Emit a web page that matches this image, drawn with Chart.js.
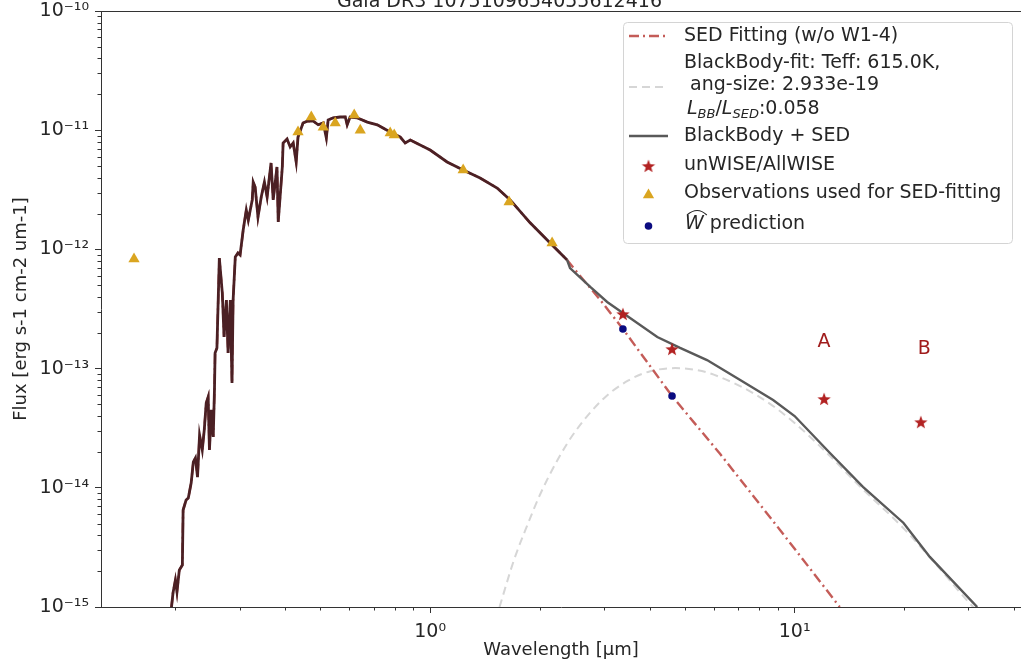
<!DOCTYPE html>
<html>
<head>
<meta charset="utf-8">
<script src="https://cdn.jsdelivr.net/npm/chart.js@4.4.0/dist/chart.umd.min.js"></script>
<style>
  html, body { margin: 0; padding: 0; background: #fff; overflow: hidden; }
  canvas { display: block; }
</style>
</head>
<body>
<canvas id="sedchart" width="1021" height="662"></canvas>
<script>
// model spectrum (micron, erg s-1 cm-2 um-1)
const sedWave = [0.195, 0.197, 0.200, 0.202, 0.205, 0.209, 0.210, 0.214, 0.217, 0.221, 0.224, 0.227,
    0.230, 0.233, 0.237, 0.240, 0.243, 0.246, 0.248, 0.251, 0.254, 0.256, 0.257, 0.260, 0.264, 0.269,
    0.272, 0.276, 0.279, 0.283, 0.286, 0.288, 0.292, 0.297, 0.301, 0.307, 0.313, 0.317, 0.325, 0.327,
    0.331, 0.337, 0.344, 0.351, 0.357, 0.366, 0.371, 0.380, 0.383, 0.393, 0.395, 0.405, 0.413, 0.421,
    0.429, 0.434, 0.448, 0.460, 0.478, 0.493, 0.509, 0.519, 0.525, 0.542, 0.566, 0.585, 0.592, 0.603,
    0.630, 0.672, 0.716, 0.777, 0.828, 0.854, 0.882, 1.000, 1.113, 1.232, 1.371, 1.527, 1.658, 1.881,
    2.161, 2.376];
const sedFlux = [9.8e-16, 1.31e-15, 1.68e-15, 1.34e-15, 2.04e-15, 2.25e-15, 6.51e-15, 7.90e-15, 8.21e-15,
    1.10e-14, 1.65e-14, 1.78e-14, 1.23e-14, 2.77e-14, 2.08e-14, 3.05e-14, 5.14e-14, 5.78e-14, 2.08e-14,
    4.50e-14, 2.67e-14, 6.61e-14, 1.35e-13, 1.49e-13, 8.47e-13, 4.31e-13, 1.84e-13, 3.76e-13, 1.35e-13,
    3.76e-13, 7.57e-14, 3.76e-13, 8.63e-13, 9.33e-13, 8.98e-13, 1.46e-12, 2.14e-12, 1.76e-12, 2.60e-12,
    3.67e-12, 3.34e-12, 1.87e-12, 2.75e-12, 3.67e-12, 2.75e-12, 5.31e-12, 2.60e-12, 4.91e-12, 1.70e-12,
    4.91e-12, 7.81e-12, 8.44e-12, 7.23e-12, 7.81e-12, 5.41e-12, 8.77e-12, 1.15e-11, 1.19e-11, 1.19e-11,
    1.11e-11, 1.15e-11, 8.60e-12, 1.22e-11, 1.27e-11, 1.29e-11, 1.29e-11, 1.11e-11, 1.29e-11, 1.27e-11,
    1.17e-11, 1.11e-11, 9.66e-12, 8.77e-12, 7.81e-12, 8.28e-12, 6.82e-12, 5.41e-12, 4.63e-12, 3.97e-12,
    3.27e-12, 2.60e-12, 1.67e-12, 1.09e-12, 8.15e-13];

// SED fit beyond the spectrum (dash-dot)
const fitTailWave = [2.50, 2.93, 3.38, 4.61, 6.25, 9.12, 13.3];
const fitTailFlux = [6.72e-13, 3.76e-13, 2.15e-13, 5.89e-14, 1.92e-14, 4.43e-15, 1.0e-15];

// blackbody + SED beyond the spectrum
const totalTailWave = [2.42, 2.75, 3.06, 3.38, 4.20, 4.85, 5.75, 7.09, 8.73, 10.0, 12.5, 15.4, 19.9, 23.5, 31.7];
const totalTailFlux = [6.98e-13, 4.84e-13, 3.62e-13, 2.93e-13, 1.84e-13, 1.49e-13, 1.18e-13, 8.02e-14,
    5.45e-14, 4.00e-14, 1.96e-14, 1.02e-14, 5.07e-15, 2.63e-15, 1.0e-15];

// blackbody fit (dashed)
const bbWave = [1.55, 1.70, 1.85, 2.0, 2.25, 2.5, 3.0, 3.5, 4.0, 4.7, 5.3, 6.0, 8.0, 10.0, 12.5, 15.0, 20.0, 25.0, 30.0, 32.0];
const bbFlux = [1.0e-15, 2.5e-15, 4.9e-15, 8.7e-15, 1.77e-14, 2.96e-14, 5.65e-14, 7.96e-14, 9.46e-14, 1.01e-13,
    9.8e-14, 8.9e-14, 5.8e-14, 3.5e-14, 1.85e-14, 1.05e-14, 4.5e-15, 2.1e-15, 1.1e-15, 9.0e-16];

// photometry
const obsWave = [0.154, 0.434, 0.472, 0.509, 0.549, 0.619, 0.643, 0.777, 0.797, 1.232, 1.647, 2.161];
const obsFlux = [8.3e-13, 9.66e-12, 1.29e-11, 1.06e-11, 1.15e-11, 1.34e-11, 1.0e-11, 9.47e-12, 9.12e-12,
    4.63e-12, 2.50e-12, 1.13e-12];
const wiseWave = [3.38, 4.61, 12.05, 22.2];
const wiseFlux = [2.87e-13, 1.46e-13, 5.56e-14, 3.56e-14];
const predWave = [3.38, 4.61];
const predFlux = [2.15e-13, 5.89e-14];

const noteText = ['A', 'B'];
const noteWave = [12.05, 22.7];
const noteFlux = [1.67e-13, 1.46e-13];

const xTickValues = [1, 10];
const xTickLabels = ['10⁰', '10¹'];
const yTickValues = [1e-15, 1e-14, 1e-13, 1e-12, 1e-11, 1e-10];
const yTickLabels = ['10⁻¹⁵', '10⁻¹⁴', '10⁻¹³', '10⁻¹²', '10⁻¹¹', '10⁻¹⁰'];
const titleText = 'Gaia DR3 1075109654055612416';

const FONT = '"DejaVu Sans", sans-serif';
const INK = '#262626';
const RED = '#c45c58';
const GOLD = '#daa520';
const STAR = '#b22222';
const NAVY = '#0b0b80';

function pts(xs, ys) {
    return xs.map((x, i) => ({x: x, y: ys[i]}));
}

// 2..9 times each decade, for the unlabelled ticks
function minorsOf(decades) {
    let out = [];
    decades.forEach(d => { for (let k = 2; k <= 9; k++) out.push(k * d); });
    return out;
}
const xMinor = minorsOf([0.1, 1, 10]);
const yMinor = minorsOf([1e-15, 1e-14, 1e-13, 1e-12, 1e-11]);

function makeStar(r, color) {
    let c = document.createElement('canvas');
    c.width = c.height = Math.ceil(2 * r + 2);
    let g = c.getContext('2d');
    g.fillStyle = color;
    g.beginPath();
    for (let i = 0; i < 10; i++) {
        let rad = i % 2 ? r * 0.42 : r;
        let a = -Math.PI / 2 + i * Math.PI / 5;
        g.lineTo(c.width / 2 + rad * Math.cos(a), c.height / 2 + 0.6 + rad * Math.sin(a));
    }
    g.closePath();
    g.fill();
    return c;
}
const starImg = makeStar(7, STAR);

const titlePlugin = {
    id: 'cutTitle',
    afterDraw(chart) {
        let ctx = chart.ctx;
        ctx.save();
        ctx.font = '19px ' + FONT;
        ctx.fillStyle = INK;
        ctx.textAlign = 'left';
        ctx.textBaseline = 'alphabetic';
        ctx.fillText(titleText, 337, 7);
        ctx.restore();
    }
};

// top spine + minor ticks (right spine falls outside the picture)
const framePlugin = {
    id: 'frame',
    afterDraw(chart) {
        let {ctx, chartArea: a, scales: {x, y}} = chart;
        ctx.save();
        ctx.strokeStyle = '#333';
        ctx.lineWidth = 1;
        ctx.beginPath();
        ctx.moveTo(a.left, a.top + 0.5);
        ctx.lineTo(a.right, a.top + 0.5);
        xMinor.forEach(v => {
            if (v < x.min || v > x.max) return;
            let px = Math.round(x.getPixelForValue(v)) + 0.5;
            ctx.moveTo(px, a.bottom);
            ctx.lineTo(px, a.bottom + 3.5);
        });
        yMinor.forEach(v => {
            let py = Math.round(y.getPixelForValue(v)) + 0.5;
            ctx.moveTo(a.left, py);
            ctx.lineTo(a.left - 3.5, py);
        });
        ctx.stroke();
        ctx.restore();
    }
};

const notesPlugin = {
    id: 'notes',
    afterDatasetsDraw(chart) {
        let {ctx, scales: {x, y}} = chart;
        ctx.save();
        ctx.font = '19px ' + FONT;
        ctx.fillStyle = '#a01c1c';
        ctx.textAlign = 'center';
        ctx.textBaseline = 'middle';
        noteText.forEach((t, i) => {
            ctx.fillText(t, x.getPixelForValue(noteWave[i]), y.getPixelForValue(noteFlux[i]));
        });
        ctx.restore();
    }
};

const legendPlugin = {
    id: 'sedLegend',
    afterDraw(chart) {
        let ctx = chart.ctx;
        let L = 623, T = 22, W = 389, H = 221;
        let hx0 = 629, hx1 = 668, tx = 684;
        ctx.save();
        ctx.beginPath();
        ctx.roundRect(L + 0.5, T + 0.5, W, H, 4);
        ctx.fillStyle = 'rgba(255,255,255,0.85)';
        ctx.fill();
        ctx.strokeStyle = '#d4d4d4';
        ctx.lineWidth = 1;
        ctx.stroke();

        function handle(y, color, dash, width) {
            ctx.beginPath();
            ctx.setLineDash(dash);
            ctx.strokeStyle = color;
            ctx.lineWidth = width;
            ctx.moveTo(hx0, y);
            ctx.lineTo(hx1, y);
            ctx.stroke();
            ctx.setLineDash([]);
        }
        handle(36, RED, [10, 4, 2, 4], 2.4);
        handle(87, '#d6d6d6', [8, 5], 2);
        handle(136, '#595959', [], 2.4);
        ctx.drawImage(starImg, 648.5 - starImg.width / 2, 166 - starImg.height / 2);
        // triangle marker
        let r = 6.5, cx = 648.5, cy = 195;
        ctx.beginPath();
        ctx.moveTo(cx, cy - r);
        ctx.lineTo(cx + r * 0.866, cy + r / 2);
        ctx.lineTo(cx - r * 0.866, cy + r / 2);
        ctx.closePath();
        ctx.fillStyle = GOLD;
        ctx.fill();
        ctx.beginPath();
        ctx.arc(648.5, 226, 3.8, 0, Math.PI * 2);
        ctx.fillStyle = NAVY;
        ctx.fill();

        ctx.fillStyle = INK;
        ctx.textAlign = 'left';
        ctx.textBaseline = 'middle';
        ctx.font = '19px ' + FONT;
        ctx.fillText('SED Fitting (w/o W1-4)', tx, 36);
        ctx.fillText('BlackBody-fit: Teff: 615.0K,', tx, 63);
        ctx.fillText(' ang-size: 2.933e-19', tx, 85);
        ctx.fillText('BlackBody + SED', tx, 136);
        ctx.fillText('unWISE/AllWISE', tx, 165);
        ctx.fillText('Observations used for SED-fitting', tx, 193);

        // L_BB / L_SED line
        ctx.textBaseline = 'alphabetic';
        let x = tx + 3, base = 114;
        function part(txt, font, dy) {
            ctx.font = font;
            ctx.fillText(txt, x, base + dy);
            x += ctx.measureText(txt).width;
        }
        part('L', 'italic 19px ' + FONT, 0);
        part('BB', 'italic 13px ' + FONT, 4);
        part('/', '19px ' + FONT, 0);
        part('L', 'italic 19px ' + FONT, 0);
        part('SED', 'italic 13px ' + FONT, 4);
        part(':0.058', '19px ' + FONT, 0);

        // W-hat prediction
        ctx.textBaseline = 'middle';
        ctx.font = 'italic 19px ' + FONT;
        let wx = tx + 1;
        ctx.fillText('W', wx, 224);
        let ww = ctx.measureText('W').width;
        ctx.font = '19px ' + FONT;
        ctx.fillText(' prediction', wx + ww, 224);
        ctx.beginPath();
        ctx.strokeStyle = INK;
        ctx.lineWidth = 1.1;
        ctx.moveTo(wx + 2, 215);
        ctx.quadraticCurveTo(wx + ww / 2 + 3, 206, wx + ww + 3, 215);
        ctx.stroke();
        ctx.restore();
    }
};

currentchart = new Chart(document.getElementById('sedchart'), {
    type: 'line',
    data: {
        datasets: [{
            label: 'Observations used for SED-fitting',
            data: pts(obsWave, obsFlux),
            showLine: false,
            pointStyle: 'triangle',
            pointRadius: 6.5,
            backgroundColor: GOLD,
            borderColor: GOLD,
            borderWidth: 0,
            order: 0
        },
        {
            label: 'unWISE/AllWISE',
            data: pts(wiseWave, wiseFlux),
            showLine: false,
            pointStyle: starImg,
            pointRadius: 6,
            order: 0
        },
        {
            label: 'W prediction',
            data: pts(predWave, predFlux),
            showLine: false,
            pointStyle: 'circle',
            pointRadius: 3.8,
            backgroundColor: NAVY,
            borderColor: NAVY,
            borderWidth: 0,
            order: 0
        },
        {
            label: 'BlackBody + SED',
            data: pts(sedWave.concat(totalTailWave), sedFlux.concat(totalTailFlux)),
            borderColor: '#595959',
            borderWidth: 2.4,
            pointRadius: 0,
            tension: 0,
            fill: false,
            clip: 0,
            segment: {
                borderColor: c => c.p1DataIndex < sedWave.length ? '#4b2024' : undefined,
                borderWidth: c => c.p1DataIndex < sedWave.length ? 2.8 : undefined
            },
            order: 1
        },
        {
            label: 'SED Fitting (w/o W1-4)',
            data: pts(sedWave.concat(fitTailWave), sedFlux.concat(fitTailFlux)),
            borderColor: RED,
            borderDash: [10, 4, 2, 4],
            borderWidth: 2.4,
            pointRadius: 0,
            tension: 0,
            fill: false,
            clip: 0,
            order: 2
        },
        {
            label: 'BlackBody-fit',
            data: pts(bbWave, bbFlux),
            borderColor: '#d6d6d6',
            borderDash: [8, 5],
            borderWidth: 2,
            pointRadius: 0,
            cubicInterpolationMode: 'monotone',
            fill: false,
            clip: 0,
            order: 3
        }]
    },
    options: {
        responsive: false,
        animation: false,
        events: [],
        layout: { autoPadding: false, padding: { top: 11, right: 0, bottom: 0, left: 0 } },
        plugins: {
            legend: { display: false },
            tooltip: { enabled: false },
            title: { display: false }
        },
        scales: {
            x: {
                type: 'logarithmic',
                min: 0.125,
                max: 41.8,
                afterBuildTicks: s => { s.ticks = xTickValues.map(v => ({ value: v })); },
                afterFit: s => { s.height = 55; s.paddingLeft = 0; s.paddingRight = 0; },
                ticks: {
                    autoSkip: false,
                    maxRotation: 0,
                    padding: 8,
                    color: INK,
                    font: { family: FONT, size: 19 },
                    callback: (v, i) => xTickLabels[i]
                },
                grid: { drawOnChartArea: false, tickLength: 6, tickColor: '#333', tickWidth: 1 },
                border: { color: '#333', width: 1 },
                title: {
                    display: true,
                    text: 'Wavelength [µm]',
                    color: INK,
                    font: { family: FONT, size: 18 },
                    padding: { top: 0, bottom: 1 }
                }
            },
            y: {
                type: 'logarithmic',
                min: 1e-15,
                max: 1e-10,
                afterBuildTicks: s => { s.ticks = yTickValues.map(v => ({ value: v })); },
                afterFit: s => { s.width = 101; s.paddingTop = 0; s.paddingBottom = 0; },
                ticks: {
                    autoSkip: false,
                    padding: 6,
                    color: INK,
                    font: { family: FONT, size: 19 },
                    callback: (v, i) => yTickLabels[i]
                },
                grid: { drawOnChartArea: false, tickLength: 6, tickColor: '#333', tickWidth: 1 },
                border: { color: '#333', width: 1 },
                title: {
                    display: true,
                    text: 'Flux [erg s-1 cm-2 um-1]',
                    color: INK,
                    font: { family: FONT, size: 18 },
                    padding: { top: 11, bottom: 0 }
                }
            }
        }
    },
    plugins: [titlePlugin, framePlugin, notesPlugin, legendPlugin]
});
</script>
</body>
</html>
